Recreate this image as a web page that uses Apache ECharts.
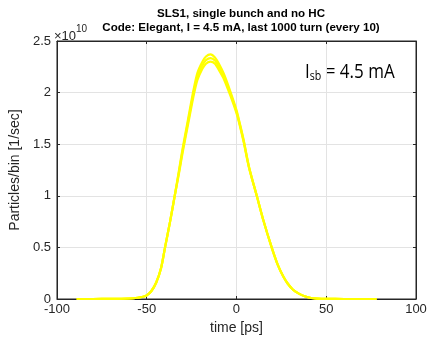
<!DOCTYPE html>
<html>
<head>
<meta charset="utf-8">
<script src="https://cdn.jsdelivr.net/npm/echarts@6/dist/echarts.min.js"></script>
<style>html,body{margin:0;padding:0;background:#fff;}#c{width:430px;height:347px;}</style>
</head>
<body>
<div id="c"></div>
<script>
// time [ps]
var timePs = [-89, -80, -70, -60, -55, -52, -50, -47.5, -44.7, -42, -39.8, -37, -34.4, -32, -30, -27, -24, -21.8, -19, -17, -14.5, -12, -9.5, -7, -3.4, 0, 2, 4, 7, 11.3, 15, 19.6, 23, 26, 28.5, 31.5, 35, 38, 41.6, 45, 50, 60, 70, 78];
// lower envelope (x 1e10 particles/bin/sec)
var lowerVals = [0, 0, 0.001, 0.005, 0.012, 0.022, 0.035, 0.075, 0.16, 0.30, 0.5, 0.75, 1.0, 1.22, 1.42, 1.69, 1.96, 2.12, 2.23, 2.28, 2.30, 2.28, 2.21, 2.13, 1.97, 1.80, 1.67, 1.52, 1.27, 1.0, 0.76, 0.5, 0.33, 0.22, 0.15, 0.09, 0.05, 0.027, 0.01, 0.004, 0.001, 0, 0, 0];
// middle trace
var midVals = [0, 0, 0.001, 0.005, 0.012, 0.022, 0.035, 0.075, 0.16, 0.30, 0.5, 0.75, 1.0, 1.235, 1.44, 1.715, 1.99, 2.155, 2.265, 2.315, 2.335, 2.31, 2.24, 2.155, 1.99, 1.815, 1.68, 1.53, 1.275, 1.0, 0.76, 0.5, 0.33, 0.22, 0.15, 0.09, 0.05, 0.027, 0.01, 0.004, 0.001, 0, 0, 0];
// upper envelope
var upperVals = [0, 0, 0.001, 0.005, 0.012, 0.022, 0.035, 0.075, 0.16, 0.30, 0.5, 0.75, 1.0, 1.25, 1.46, 1.74, 2.02, 2.19, 2.30, 2.35, 2.37, 2.34, 2.27, 2.18, 2.01, 1.83, 1.69, 1.54, 1.28, 1.0, 0.76, 0.5, 0.33, 0.22, 0.15, 0.09, 0.05, 0.027, 0.01, 0.004, 0.001, 0, 0, 0];
var xTicks = [-100, -50, 0, 50, 100];
var yTicks = [0, 0.5, 1, 1.5, 2, 2.5];

function pairs(vals) { return timePs.map(function (t, i) { return [t, vals[i]]; }); }

var axisCol = '#262626';
var font = 'Liberation Sans, Arial, sans-serif';
var chart = echarts.init(document.getElementById('c'), null, {renderer: 'canvas'});
function traceSeries(vals) {
  return {
    type: 'line', data: pairs(vals), xAxisIndex: 0, yAxisIndex: 0,
    symbol: 'none', smooth: 0.25,
    lineStyle: {color: '#ffff00', width: 2.2}, z: 3
  };
}
chart.setOption({
  animation: false,
  backgroundColor: '#fff',
  title: {
    text: 'SLS1, single bunch and no HC\nCode: Elegant, I = 4.5 mA, last 1000 turn (every 10)',
    left: 236, top: 2, textAlign: 'center',
    textStyle: {fontFamily: font, fontSize: 11.6, fontWeight: 'bold', color: '#000', lineHeight: 14}
  },
  grid: {left: 53, right: 14, top: 41, bottom: 48, show: true, borderColor: axisCol, borderWidth: 1},
  xAxis: [{
    type: 'value', min: -100, max: 100, interval: 50,
    name: 'time [ps]', nameLocation: 'middle', nameGap: 22,
    nameTextStyle: {fontFamily: font, fontSize: 14, color: axisCol},
    axisLine: {show: true, onZero: false, lineStyle: {color: axisCol}},
    axisTick: {show: true, inside: true, length: 3, lineStyle: {color: axisCol}},
    axisLabel: {fontFamily: font, fontSize: 13, color: axisCol, margin: 4},
    splitLine: {show: true, lineStyle: {color: '#e3e3e3', width: 1}}
  }, {
    type: 'value', position: 'top', min: -100, max: 100, interval: 50,
    axisLine: {show: true, onZero: false, lineStyle: {color: axisCol}},
    axisTick: {show: true, inside: true, length: 3, lineStyle: {color: axisCol}},
    axisLabel: {show: false}, splitLine: {show: false}
  }],
  yAxis: [{
    type: 'value', min: 0, max: 2.5, interval: 0.5,
    name: 'Particles/bin [1/sec]', nameLocation: 'middle', nameGap: 32,
    nameTextStyle: {fontFamily: font, fontSize: 14, color: axisCol},
    axisLine: {show: true, onZero: false, lineStyle: {color: axisCol}},
    axisTick: {show: true, inside: true, length: 3, lineStyle: {color: axisCol}},
    axisLabel: {fontFamily: font, fontSize: 13, color: axisCol, margin: 6},
    splitLine: {show: true, lineStyle: {color: '#e3e3e3', width: 1}}
  }, {
    type: 'value', position: 'right', min: 0, max: 2.5, interval: 0.5,
    axisLine: {show: true, onZero: false, lineStyle: {color: axisCol}},
    axisTick: {show: true, inside: true, length: 3, lineStyle: {color: axisCol}},
    axisLabel: {show: false}, splitLine: {show: false}
  }],
  series: [traceSeries(lowerVals), traceSeries(midVals), traceSeries(upperVals)],
  graphic: [{
    type: 'text', left: 54, top: 24,
    style: {
      text: '{a|\u00d710}{b|10}',
      rich: {
        a: {fontFamily: font, fontSize: 13, fill: axisCol, verticalAlign: 'bottom', padding: [6, 0, 0, 0]},
        b: {fontFamily: font, fontSize: 10, fill: axisCol, verticalAlign: 'top', padding: [0, 0, 7, 0]}
      }
    }
  }, {
    type: 'group', left: 305, top: 62,
    children: [{
      type: 'text', scaleX: 0.85,
      style: {
        text: '{i|I}{s|sb}{i| = 4.5 mA}',
        rich: {
          i: {fontFamily: '"Open Sans", sans-serif', fontSize: 20, fill: '#000'},
          s: {fontFamily: '"Open Sans", sans-serif', fontSize: 12.5, fill: '#000', padding: [9, 0, 0, 0]}
        }
      }
    }]
  }]
});
</script>
</body>
</html>
